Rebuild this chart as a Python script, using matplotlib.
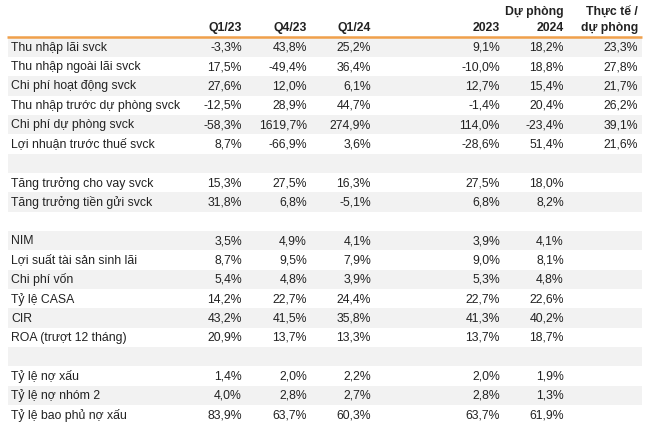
import matplotlib
matplotlib.use("Agg")
import matplotlib.pyplot as plt
from matplotlib.patches import Rectangle

plt.rcParams['font.family'] = ['Liberation Sans', 'DejaVu Sans']

row_labels = [
    "Thu nhập lãi svck", "Thu nhập ngoài lãi svck", "Chi phí hoạt động svck",
    "Thu nhập trước dự phòng svck", "Chi phí dự phòng svck", "Lợi nhuận trước thuế svck",
    "",
    "Tăng trưởng cho vay svck", "Tăng trưởng tiền gửi svck",
    "",
    "NIM", "Lợi suất tài sản sinh lãi", "Chi phí vốn", "Tỷ lệ CASA", "CIR",
    "ROA (trượt 12 tháng)",
    "",
    "Tỷ lệ nợ xấu", "Tỷ lệ nợ nhóm 2", "Tỷ lệ bao phủ nợ xấu",
]

col_headers = ["Q1/23", "Q4/23", "Q1/24", "2023", "Dự phòng\n2024", "Thực tế /\ndự phòng"]

q1_23 = ["-3,3%", "17,5%", "27,6%", "-12,5%", "-58,3%", "8,7%", "",
         "15,3%", "31,8%", "",
         "3,5%", "8,7%", "5,4%", "14,2%", "43,2%", "20,9%", "",
         "1,4%", "4,0%", "83,9%"]
q4_23 = ["43,8%", "-49,4%", "12,0%", "28,9%", "1619,7%", "-66,9%", "",
         "27,5%", "6,8%", "",
         "4,9%", "9,5%", "4,8%", "22,7%", "41,5%", "13,7%", "",
         "2,0%", "2,8%", "63,7%"]
q1_24 = ["25,2%", "36,4%", "6,1%", "44,7%", "274,9%", "3,6%", "",
         "16,3%", "-5,1%", "",
         "4,1%", "7,9%", "3,9%", "24,4%", "35,8%", "13,3%", "",
         "2,2%", "2,7%", "60,3%"]
y2023 = ["9,1%", "-10,0%", "12,7%", "-1,4%", "114,0%", "-28,6%", "",
         "27,5%", "6,8%", "",
         "3,9%", "9,0%", "5,3%", "22,7%", "41,3%", "13,7%", "",
         "2,0%", "2,8%", "63,7%"]
f2024 = ["18,2%", "18,8%", "15,4%", "20,4%", "-23,4%", "51,4%", "",
         "18,0%", "8,2%", "",
         "4,1%", "8,1%", "4,8%", "22,6%", "40,2%", "18,7%", "",
         "1,9%", "1,3%", "61,9%"]
actual_vs_f = ["23,3%", "27,8%", "21,7%", "26,2%", "39,1%", "21,6%", "",
               "", "", "",
               "", "", "", "", "", "", "",
               "", "", ""]

columns = [q1_23, q4_23, q1_24, y2023, f2024, actual_vs_f]

W, H = 650, 425
fig = plt.figure(figsize=(W / 100, H / 100), dpi=100)
ax = fig.add_axes([0, 0, 1, 1])
ax.set_xlim(0, W)
ax.set_ylim(H, 0)
ax.axis('off')

text_color = "#222222"
band_color = "#f2f2f2"
orange = "#f0a04b"

top = 37.5
row_h = 19.35
left, right = 8, 642
col_right = [242, 307, 371, 500, 564, 638]
fs = 8.8

for i, lab in enumerate(row_labels):
    y0 = top + i * row_h
    if i % 2 == 0:
        ax.add_patch(Rectangle((left, y0), right - left, row_h,
                               facecolor=band_color, edgecolor='none', zorder=0))
    yc = y0 + row_h / 2 + 0.5
    ax.text(11, yc, lab, ha='left', va='center', fontsize=fs, color=text_color)
    for cx, col in zip(col_right, columns):
        ax.text(cx, yc, col[i], ha='right', va='center', fontsize=fs, color=text_color)

for cx, h in zip(col_right, col_headers):
    lines = h.split("\n")
    if len(lines) == 1:
        ax.text(cx, 28, lines[0], ha='right', va='center', fontsize=fs,
                fontweight='bold', color=text_color)
    else:
        ax.text(cx, 12, lines[0], ha='right', va='center', fontsize=fs,
                fontweight='bold', color=text_color)
        ax.text(cx, 28, lines[1], ha='right', va='center', fontsize=fs,
                fontweight='bold', color=text_color)

ax.plot([7, right], [36.7, 36.7], color=orange, linewidth=1.8, solid_capstyle='butt')

fig.savefig("out.png", dpi=100)
